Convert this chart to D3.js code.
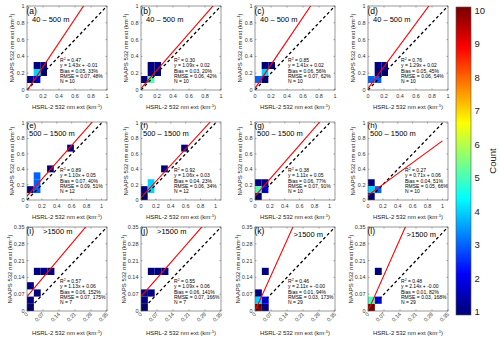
<!DOCTYPE html>
<html lang="en">
<head>
<meta charset="UTF-8" />
<title>NAAPS vs HSRL-2</title>
<style>
  body { margin: 0; background: #fff; }
  svg { display: block; font-family: "Liberation Sans", Arial, sans-serif; }
</style>
</head>
<body>
<svg id="svg" width="500" height="340"></svg>
<script src="https://d3js.org/d3.v7.min.js"></script>
<script>
// panel labels / annotations
const letters = ['a', 'b', 'c', 'd', 'e', 'f', 'g', 'h', 'i', 'j', 'k', 'l'];
const layers = ['40 – 500 m', '40 – 500 m', '40 – 500 m', '40 – 500 m',
  '500 – 1500 m', '500 – 1500 m', '500 – 1500 m', '500 – 1500 m',
  '>1500 m', '>1500 m', '>1500 m', '>1500 m'];
const slopes = [1.43, 1.09, 1.41, 1.29, 1.10, 1.06, 1.11, 0.71, 1.13, 1.09, 2.11, 2.14];
const intercepts = [-0.01, 0.02, 0.02, 0.02, 0.05, 0.03, 0.05, 0.06, 0.06, 0.06, -0.00, -0.00];
const r2 = ['0.47', '0.30', '0.85', '0.76', '0.89', '0.92', '0.38', '0.27', '0.57', '0.55', '0.46', '0.48'];
const fitText = ['1.43x + -0.01', '1.09x + 0.02', '1.41x + 0.02', '1.29x + 0.02', '1.10x + 0.05', '1.06x + 0.03',
  '1.11x + 0.05', '0.71x + 0.06', '1.13x + 0.06', '1.09x + 0.06', '2.11x + -0.00', '2.14x + -0.00'];
const bias = ['0.05, 33%', '0.03, 20%', '0.06, 56%', '0.05, 45%', '0.07, 40%', '0.04, 23%',
  '0.06, 77%', '0.04, 51%', '0.06, 152%', '0.06, 141%', '0.01, 94%', '0.01, 82%'];
const rmse = ['0.07, 48%', '0.06, 42%', '0.07, 62%', '0.06, 54%', '0.09, 51%', '0.06, 34%',
  '0.07, 91%', '0.05, 66%', '0.07, 175%', '0.07, 166%', '0.03, 173%', '0.03, 168%'];
const nPoints = [10, 10, 10, 10, 12, 12, 10, 10, 7, 7, 29, 29];

// axis ranges, ticks and histogram bin size per row
const xMax = [1, 1.075, 0.35];
const yMax = [1, 1.015, 0.35];
const tickMax = [1, 1, 0.35];
const ticksLow = [0, 0.2, 0.4, 0.6, 0.8, 1];
const ticksHigh = [0, 0.07, 0.14, 0.21, 0.28, 0.35];
const binSize = [1 / 12, 0.09, 0.03];

// 2D histogram cells: [x bin, y bin, count]
const cellsA = [[1, 3, 1], [2, 3, 1], [2, 2, 1], [1, 2, 4], [0, 1, 1], [1, 1, 2]];
const cellsB = [[1, 2, 1], [2, 2, 1], [1, 3, 1], [2, 3, 1], [0, 1, 1], [1, 1, 5]];
const cellsC = [[1, 3, 1], [2, 3, 1], [1, 2, 4], [0, 1, 3], [1, 1, 1]];
const cellsD = [[1, 2, 1], [2, 2, 1], [1, 3, 1], [2, 3, 1], [0, 1, 3], [1, 1, 3]];
const cellsE = [[0, 1, 1], [1, 1, 3], [1, 2, 3], [1, 3, 3], [3, 4, 1], [6, 7, 1]];
const cellsF = [[0, 0, 1], [0, 1, 1], [1, 1, 4], [1, 2, 4], [3, 4, 1], [6, 7, 1]];
const cellsG = [[0, 2, 1], [1, 2, 1], [0, 1, 5], [1, 1, 2], [0, 0, 1]];
const cellsH = [[0, 2, 1], [0, 1, 4], [1, 1, 3], [0, 0, 1]];
const cellsI = [[0, 0, 1], [0, 1, 1], [0, 3, 1], [1, 2, 1], [1, 5, 1], [2, 5, 1], [3, 5, 1]];
const cellsJ = [[0, 0, 1], [0, 1, 1], [0, 2, 1], [1, 2, 1], [1, 5, 1], [2, 5, 1], [3, 5, 1]];
const cellsK = [[0, 0, 20], [1, 0, 1], [0, 1, 4], [1, 1, 2], [0, 2, 1], [1, 5, 1]];
const cellsL = [[0, 0, 21], [0, 1, 5], [1, 1, 2], [1, 5, 1]];
const allCells = [cellsA, cellsB, cellsC, cellsD, cellsE, cellsF, cellsG, cellsH, cellsI, cellsJ, cellsK, cellsL];

const colorTicks = [1, 2, 3, 4, 5, 6, 7, 8, 9, 10];

// layout
const colLeft = [27, 141, 255, 368];
const plotW = 80;
const rowTop = [6, 122, 227];
const rowH = [84, 78, 84];

// MATLAB jet
function jet(t) {
  const c = v => Math.max(0, Math.min(1, v));
  const r = c(Math.min(4 * t - 1.5, -4 * t + 4.5));
  const g = c(Math.min(4 * t - 0.5, -4 * t + 3.5));
  const b = c(Math.min(4 * t + 0.5, -4 * t + 2.5));
  return d3.rgb(r * 255, g * 255, b * 255).toString();
}
const colorScale = v => jet(Math.max(0, Math.min(1, (v - 1) / 9)));

const svg = d3.select('#svg');
const defs = svg.append('defs');

letters.forEach((letter, i) => {
  const row = Math.floor(i / 4), col = i % 4;
  const left = colLeft[col], top = rowTop[row], h = rowH[row];
  const ticks = row === 2 ? ticksHigh : ticksLow;
  const tmax = tickMax[row];
  const x = d3.scaleLinear().domain([0, xMax[row]]).range([left, left + plotW]);
  const y = d3.scaleLinear().domain([0, yMax[row]]).range([top + h, top]);
  const bin = binSize[row];

  defs.append('clipPath').attr('id', 'clip' + i)
    .append('rect').attr('x', left).attr('y', top).attr('width', plotW).attr('height', h);

  const g = svg.append('g');
  const inner = g.append('g').attr('clip-path', `url(#clip${i})`);

  inner.selectAll('rect.cell')
    .data(allCells[i])
    .enter()
    .append('rect')
    .attr('class', 'cell')
    .attr('x', d => x(d[0] * bin))
    .attr('y', d => y((d[1] + 1) * bin))
    .attr('width', d => x((d[0] + 1) * bin) - x(d[0] * bin))
    .attr('height', d => y(d[1] * bin) - y((d[1] + 1) * bin))
    .attr('fill', d => colorScale(d[2]));

  // 1:1 line
  inner.append('path')
    .attr('d', d3.line()([[x(0), y(0)], [x(tmax), y(tmax)]]))
    .attr('stroke', '#000').attr('stroke-width', 1.3)
    .attr('stroke-dasharray', '3,2.5').attr('fill', 'none');

  // fit line
  inner.append('path')
    .attr('d', d3.line()([[x(0), y(intercepts[i])], [x(tmax), y(slopes[i] * tmax + intercepts[i])]]))
    .attr('stroke', '#f00').attr('stroke-width', 1.1).attr('fill', 'none');

  // frame
  g.append('rect').attr('x', left).attr('y', top).attr('width', plotW).attr('height', h)
    .attr('fill', 'none').attr('stroke', '#555').attr('stroke-width', 0.6);

  // ticks inside, all four sides
  const tickG = g.append('g').attr('stroke', '#555').attr('stroke-width', 0.5);
  ticks.forEach(t => {
    tickG.append('line').attr('x1', x(t)).attr('x2', x(t)).attr('y1', top + h).attr('y2', top + h - 1.5);
    tickG.append('line').attr('x1', x(t)).attr('x2', x(t)).attr('y1', top).attr('y2', top + 1.5);
    tickG.append('line').attr('y1', y(t)).attr('y2', y(t)).attr('x1', left).attr('x2', left + 1.5);
    tickG.append('line').attr('y1', y(t)).attr('y2', y(t)).attr('x1', left + plotW).attr('x2', left + plotW - 1.5);
  });

  // tick labels
  const fmt = d => (d === 0 ? '0' : String(+d.toFixed(2)));
  g.selectAll('text.ytick').data(ticks).enter().append('text')
    .attr('x', left - 2.5).attr('y', d => y(d) + 1.9)
    .attr('text-anchor', 'end').attr('font-size', 5.5).attr('fill', '#333')
    .text(fmt);
  if (row === 2) {
    g.selectAll('text.xtick').data(ticks).enter().append('text')
      .attr('transform', d => `translate(${x(d) + 1.5},${top + h + 3.5}) rotate(-45)`)
      .attr('text-anchor', 'end').attr('font-size', 5.5).attr('fill', '#333')
      .text(fmt);
  } else {
    g.selectAll('text.xtick').data(ticks).enter().append('text')
      .attr('x', d => x(d)).attr('y', top + h + 7.8)
      .attr('text-anchor', 'middle').attr('font-size', 5.5).attr('fill', '#333')
      .text(fmt);
  }

  // axis titles
  const xl = g.append('text')
    .attr('x', left + plotW / 2).attr('y', row === 2 ? top + h + 24 : top + h + 18.5)
    .attr('text-anchor', 'middle').attr('font-size', 6).attr('fill', '#222');
  xl.append('tspan').text('HSRL-2 532 nm ext (km');
  xl.append('tspan').attr('baseline-shift', 'super').attr('font-size', 4.3).text('-1');
  xl.append('tspan').text(')');

  const yl = g.append('text')
    .attr('transform', `translate(${left - (row === 2 ? 15.5 : 13)},${top + h / 2}) rotate(-90)`)
    .attr('text-anchor', 'middle').attr('font-size', 6).attr('fill', '#222');
  yl.append('tspan').text('NAAPS 532 nm ext (km');
  yl.append('tspan').attr('baseline-shift', 'super').attr('font-size', 4.3).text('-1');
  yl.append('tspan').text(')');

  // panel letter and layer
  const letterY = [8, 6, 7][row];
  g.append('text').attr('x', left - 0.5).attr('y', top + letterY)
    .attr('font-size', row === 1 ? 8 : 8.5).attr('fill', '#000').text(`(${letter})`);
  const rightLayer = i >= 10;
  const layerX = [5, 2, 16][row];
  const layerY = [15.5, 14, 7][row];
  g.append('text')
    .attr('x', rightLayer ? left + plotW - 12 : left + layerX)
    .attr('y', rightLayer ? top + 10 : top + layerY)
    .attr('text-anchor', rightLayer ? 'end' : 'start')
    .attr('font-size', 7.5).attr('fill', '#000').text(layers[i]);

  // stats block
  const sx = left + (i === 7 ? 37 : 33), sy = top + h - 28;
  const lineH = 5.3;
  const st = g.append('g').attr('font-size', 5).attr('fill', '#000');
  const r2t = st.append('text').attr('x', sx).attr('y', sy);
  r2t.append('tspan').text('R');
  r2t.append('tspan').attr('baseline-shift', 'super').attr('font-size', 3.5).text('2');
  r2t.append('tspan').text(' = ' + r2[i]);
  st.append('text').attr('x', sx).attr('y', sy + lineH).text('y = ' + fitText[i]);
  st.append('text').attr('x', sx).attr('y', sy + lineH * 2).text('Bias = ' + bias[i]);
  st.append('text').attr('x', sx).attr('y', sy + lineH * 3).text('RMSE = ' + rmse[i]);
  st.append('text').attr('x', sx).attr('y', sy + lineH * 4).text('N = ' + nPoints[i]);
});

// colorbar
const cbX = 456, cbW = 15, cbTop = 7, cbBottom = 315;
const cy = d3.scaleLinear().domain([1, 10]).range([311.5, 10]);
const cb = svg.append('g');
const steps = d3.range(cbTop, cbBottom, 2);
cb.selectAll('rect').data(steps).enter().append('rect')
  .attr('x', cbX).attr('width', cbW)
  .attr('y', d => d)
  .attr('height', d => Math.min(2.5, cbBottom - d))
  .attr('fill', d => colorScale(cy.invert(d + 1)));
cb.append('rect').attr('x', cbX).attr('y', cbTop).attr('width', cbW).attr('height', cbBottom - cbTop)
  .attr('fill', 'none').attr('stroke', '#555').attr('stroke-width', 0.6);
cb.selectAll('text.ct').data(colorTicks).enter().append('text')
  .attr('x', cbX + cbW + 3.5).attr('y', d => cy(d) + 3.5)
  .attr('font-size', 9.5).attr('fill', '#222').text(d => d);
cb.append('text')
  .attr('transform', `translate(496,${(cbTop + cbBottom) / 2}) rotate(-90)`)
  .attr('text-anchor', 'middle').attr('font-size', 9.5).attr('fill', '#222').text('Count');
</script>
</body>
</html>
